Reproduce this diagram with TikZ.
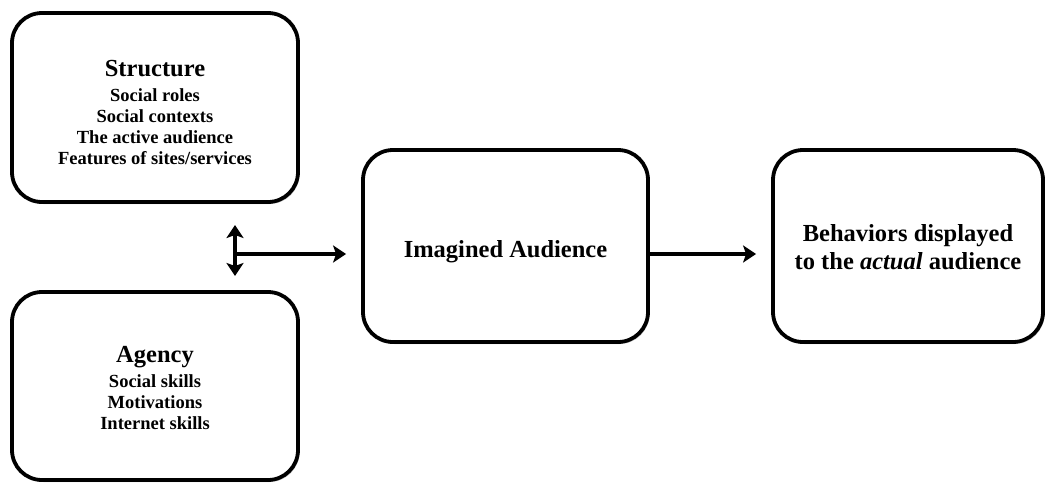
\documentclass[tikz,border=0pt]{standalone}
\usepackage{fontspec}
\setmainfont{Liberation Serif}
\usetikzlibrary{arrows.meta,shadows}
\newcommand{\ttlfont}{\fontsize{24.5}{28}\selectfont\bfseries}
\newcommand{\subfnt}{\fontsize{18.5}{21}\selectfont\bfseries}
\tikzset{
  box/.style={draw=black, line width=3.8pt, rounded corners=30pt, fill=white,
    inner sep=0pt,
    drop shadow={shadow xshift=1.5pt, shadow yshift=-2pt, opacity=0.35, fill=black!60}},
  txt/.style={align=center, inner sep=0pt},
  arr/.style={line width=3.5pt, -{Stealth[length=13pt,width=17pt,inset=3pt]}},
  darr/.style={line width=3.5pt, {Stealth[length=13pt,width=17pt,inset=3pt]}-{Stealth[length=13pt,width=17pt,inset=3pt]}}
}
\begin{document}
\begin{tikzpicture}[x=1pt,y=-1pt]
\useasboundingbox[fill=white] (0,0) rectangle (1046,482);
\node[box, minimum width=286pt, minimum height=189pt] (structure) at (155,107.5) {};
\node[txt, font=\subfnt] (structure-t) at ([yshift=-4.5pt]structure.center)
  {{\ttlfont Structure}\\[4pt]Social roles\\Social contexts\\The active audience\\Features of sites/services};
\node[box, minimum width=286pt, minimum height=188pt] (agency) at (155,386) {};
\node[txt, font=\subfnt] (agency-t) at ([yshift=-2pt]agency.center)
  {{\ttlfont Agency}\\[4pt]Social skills\\Motivations\\Internet skills};
\node[box, minimum width=285pt, minimum height=192pt] (imagined) at (505.5,246) {};
\node[txt, font=\ttlfont] (imagined-t) at ([yshift=-5.5pt]imagined.center) {Imagined Audience};
\node[box, minimum width=270pt, minimum height=192pt] (behav) at (908,246) {};
\node[txt, font=\ttlfont] (behav-t) at ([yshift=-1pt]behav.center)
  {Behaviors displayed\\to the \textit{actual} audience};
\coordinate (vtop) at (235,225);
\coordinate (vbot) at (235,276);
\coordinate (junc) at (235,254);
\draw[darr] (vtop) -- (vbot);
\draw[arr] (junc) -- ([xshift=-15pt]imagined.west |- junc);
\draw[arr, shorten >=15pt] (imagined.east |- junc) -- (behav.west |- junc);
\end{tikzpicture}
\end{document}
